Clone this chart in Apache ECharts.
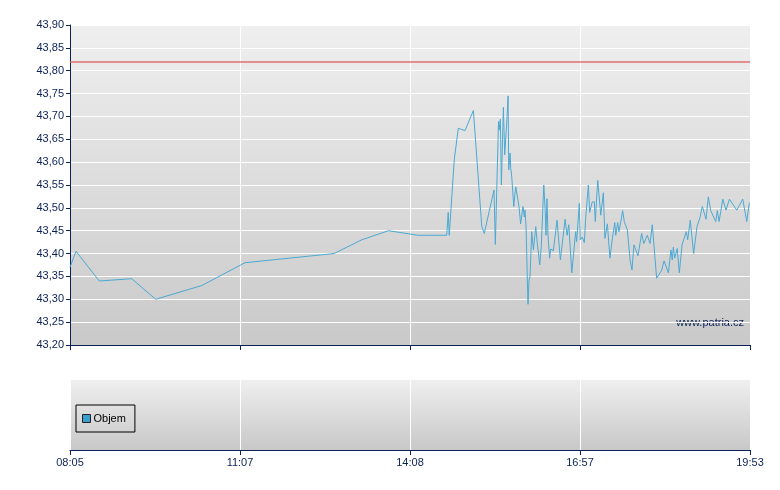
<!DOCTYPE html>
<html>
<head>
<meta charset="utf-8">
<script src="https://cdn.jsdelivr.net/npm/echarts@6/dist/echarts.min.js"></script>
<style>
html,body{margin:0;padding:0;background:#ffffff;}
#chart{width:780px;height:490px;}
</style>
</head>
<body>
<div id="chart"></div>
<script>
// ---- data ----
var tickLabels = ['08:05', '11:07', '14:08', '16:57', '19:53'];
var prevClose = 43.82;
var priceTimes = [
  '08:05:00','08:11:25','08:36:20','09:11:00','09:36:45','10:26:00','11:12:20','12:47:05','13:16:30','13:45:00',
  '14:16:15','14:44:30','14:46:00','14:47:00','14:52:00','14:56:00','15:02:40','15:11:00','15:19:20','15:21:50',
  '15:31:30','15:32:50','15:36:00','15:36:30','15:37:50','15:38:50','15:40:50','15:42:10','15:43:30','15:44:30',
  '15:45:30','15:46:10','15:47:30','15:48:10','15:49:10','15:50:10','15:51:10','15:52:10','15:53:10','15:54:40',
  '15:56:20','15:58:00','16:00:20','16:01:40','16:02:20','16:03:20','16:04:40','16:05:20','16:06:20','16:07:20',
  '16:09:00','16:10:40','16:13:00','16:14:30','16:15:30','16:17:00','16:18:30','16:21:00','16:22:30','16:23:10',
  '16:24:10','16:25:10','16:26:50','16:27:50','16:30:30','16:34:10','16:37:30','16:42:10','16:43:10','16:44:10',
  '16:45:50','16:48:50','16:52:40','16:53:40','16:56:20','16:57:20','16:59:20','17:01:30','17:02:50','17:05:40',
  '17:07:00','17:09:40','17:11:50','17:12:50','17:15:20','17:18:30','17:21:10','17:22:50','17:25:20','17:28:00',
  '17:30:30','17:33:00','17:34:00','17:36:00','17:37:20','17:39:30','17:41:10','17:42:50','17:46:00','17:48:50',
  '17:50:50','17:52:50','17:57:00','18:00:50','18:03:00','18:06:40','18:08:30','18:09:30','18:11:50','18:16:20',
  '18:21:40','18:24:00','18:28:30','18:31:10','18:32:30','18:33:40','18:35:00','18:37:40','18:39:50','18:42:40',
  '18:47:00','18:48:30','18:51:10','18:54:40','18:58:10','19:01:20','19:03:40','19:07:30','19:09:50','19:12:20',
  '19:17:30','19:19:10','19:21:00','19:24:50','19:28:10','19:31:40','19:39:20','19:45:30','19:49:40','19:52:20'
];
var priceValues = [
  43.37, 43.405, 43.34, 43.345, 43.30, 43.33, 43.38, 43.40, 43.43, 43.45,
  43.44, 43.44, 43.49, 43.44, 43.605, 43.674, 43.669, 43.713, 43.46, 43.444,
  43.539, 43.42, 43.689, 43.67, 43.694, 43.55, 43.72, 43.616, 43.616, 43.70,
  43.745, 43.583, 43.62, 43.586, 43.568, 43.568, 43.503, 43.528, 43.546, 43.55,
  43.503, 43.465, 43.503, 43.48, 43.495, 43.46, 43.342, 43.289, 43.342, 43.35,
  43.448, 43.408, 43.459, 43.424, 43.42, 43.375, 43.415, 43.55, 43.49, 43.44,
  43.52, 43.44, 43.39, 43.41, 43.406, 43.473, 43.386, 43.475, 43.472, 43.44,
  43.463, 43.358, 43.448, 43.426, 43.51, 43.43, 43.436, 43.424, 43.477, 43.55,
  43.49, 43.513, 43.513, 43.47, 43.56, 43.484, 43.533, 43.433, 43.465, 43.39,
  43.433, 43.468, 43.44, 43.468, 43.448, 43.473, 43.494, 43.47, 43.452, 43.386,
  43.364, 43.419, 43.395, 43.444, 43.422, 43.44, 43.444, 43.422, 43.463, 43.346,
  43.364, 43.384, 43.358, 43.408, 43.386, 43.414, 43.39, 43.411, 43.358, 43.419,
  43.448, 43.43, 43.473, 43.40, 43.459, 43.48, 43.503, 43.475, 43.524, 43.494,
  43.47, 43.494, 43.47, 43.519, 43.495, 43.519, 43.495, 43.519, 43.47, 43.511
];
var volumeValues = [];

// ---- helpers ----
function toSec(s) {
  var p = s.split(':');
  return (+p[0]) * 3600 + (+p[1]) * 60 + (p[2] ? +p[2] : 0);
}
var tickSecs = tickLabels.map(toSec);
// position of a time on the axis (ticks are evenly spaced on the chart)
function axisPos(s) {
  var t = toSec(s);
  for (var k = 0; k < tickSecs.length - 1; k++) {
    if (t <= tickSecs[k + 1] || k === tickSecs.length - 2) {
      return k + (t - tickSecs[k]) / (tickSecs[k + 1] - tickSecs[k]);
    }
  }
  return 0;
}
var priceData = priceTimes.map(function (s, i) { return [axisPos(s), priceValues[i]]; });

var navy = '#0b2157';
var font = 'Liberation Sans, Arial, sans-serif';
function grad(top, bottom) {
  return { type: 'linear', x: 0, y: 0, x2: 0, y2: 1,
    colorStops: [{ offset: 0, color: top }, { offset: 1, color: bottom }] };
}

var chart = echarts.init(document.getElementById('chart'), null, { renderer: 'canvas' });
chart.setOption({
  animation: false,
  backgroundColor: '#ffffff',
  textStyle: { fontFamily: font },
  grid: [
    { left: 70, top: 25, width: 680, height: 320, show: true, borderWidth: 0,
      backgroundColor: grad('#efefef', '#c9c9c9') },
    { left: 70, top: 380, width: 680, height: 70, show: true, borderWidth: 0,
      backgroundColor: grad('#efefef', '#c8c8c8') }
  ],
  legend: {
    data: ['Objem'],
    left: 76, top: 405,
    orient: 'vertical',
    borderColor: '#000000', borderWidth: 1,
    padding: [8, 9, 8, 6],
    itemWidth: 8, itemHeight: 8, itemGap: 0,
    icon: 'rect',
    itemStyle: { borderColor: '#222', borderWidth: 1 },
    textStyle: { color: '#000', fontSize: 11, fontFamily: font, padding: [0, 0, 0, -2] }
  },
  xAxis: [
    { type: 'value', gridIndex: 0, min: 0, max: 4, interval: 1,
      axisLine: { show: true, onZero: false, lineStyle: { color: navy, width: 1 } },
      axisTick: { show: true, length: 5, lineStyle: { color: navy } },
      axisLabel: { show: false },
      splitLine: { show: true, lineStyle: { color: '#ffffff', width: 1 } } },
    { type: 'value', gridIndex: 1, min: 0, max: 4, interval: 1,
      axisLine: { show: true, onZero: false, lineStyle: { color: navy, width: 1 } },
      axisTick: { show: true, length: 5, lineStyle: { color: navy } },
      axisLabel: { show: true, color: navy, fontSize: 11, fontFamily: font, margin: 7,
        formatter: function (v) { return tickLabels[Math.round(v)]; } },
      splitLine: { show: true, lineStyle: { color: '#ffffff', width: 1 } } }
  ],
  yAxis: [
    { type: 'value', gridIndex: 0, min: 43.2, max: 43.9, interval: 0.05,
      axisLine: { show: true, lineStyle: { color: navy, width: 1 } },
      axisTick: { show: true, length: 4, lineStyle: { color: navy } },
      axisLabel: { color: navy, fontSize: 11, fontFamily: font, margin: 6,
        formatter: function (v) { return v.toFixed(2).replace('.', ','); } },
      splitLine: { show: true, lineStyle: { color: '#ffffff', width: 1 } } },
    { type: 'value', gridIndex: 1, min: 0, max: 1, show: false,
      splitLine: { show: false } }
  ],
  series: [
    { name: 'Cena', type: 'line', xAxisIndex: 0, yAxisIndex: 0,
      data: priceData, showSymbol: false, symbol: 'none', smooth: false,
      lineStyle: { color: '#4ba9d3', width: 1 },
      itemStyle: { color: '#4ba9d3' },
      markLine: { silent: true, symbol: 'none', label: { show: false },
        lineStyle: { color: 'rgba(222,90,90,0.85)', width: 1.5, type: 'solid' },
        data: [{ yAxis: prevClose }] } },
    { name: 'Objem', type: 'bar', xAxisIndex: 1, yAxisIndex: 1,
      data: volumeValues, itemStyle: { color: '#3a9fd0' } }
  ],
  graphic: [
    { type: 'text', right: 36, top: 317,
      style: { text: 'www.patria.cz', fill: navy, font: '11px ' + font } }
  ]
});
</script>
</body>
</html>
